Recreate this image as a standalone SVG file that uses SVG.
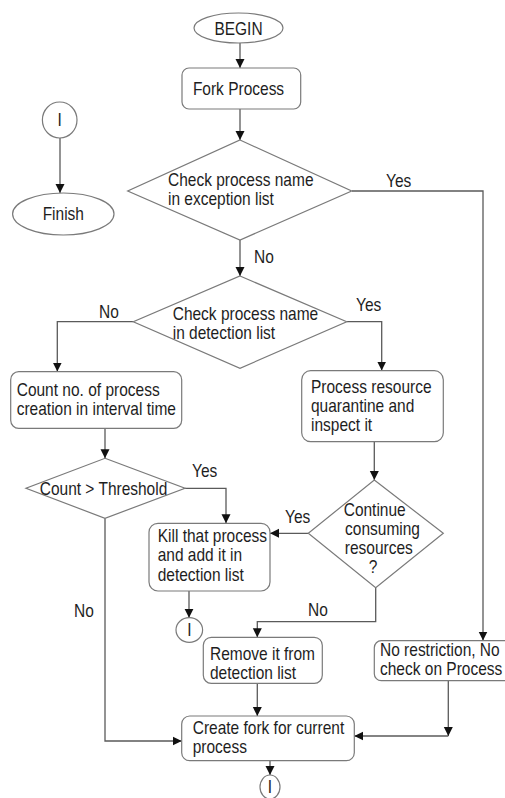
<svg xmlns="http://www.w3.org/2000/svg" width="505" height="798" viewBox="0 0 505 798">
<style>
.shape{fill:#fff;stroke:#7a7a7a;stroke-width:1.2}
.conn{fill:none;stroke:#5a5a5a;stroke-width:1.3}
text{font-family:"Liberation Sans",Arial,sans-serif;font-size:17.5px;fill:#1e1e1e}
.c{text-anchor:middle}
</style>
<defs>
<marker id="arr" viewBox="0 0 10 10" refX="10" refY="5" markerWidth="9" markerHeight="10" markerUnits="userSpaceOnUse" orient="auto">
<path d="M0,0 L10,5 L0,10 z" fill="#111"/>
</marker>
</defs>
<rect width="505" height="798" fill="#fff"/>
<g id="connectors" class="conn">
<path d="M240,43 V68" marker-end="url(#arr)"/>
<path d="M240,109 V140" marker-end="url(#arr)"/>
<path d="M240,240 V276" marker-end="url(#arr)"/>
<path d="M352,191 H483 V640.5" marker-end="url(#arr)"/>
<path d="M133.3,321.7 H57.3 V371.5" marker-end="url(#arr)"/>
<path d="M346.7,321.7 H381.7 V370.5" marker-end="url(#arr)"/>
<path d="M105,428.3 V458.3" marker-end="url(#arr)"/>
<path d="M374.3,441.7 V480" marker-end="url(#arr)"/>
<path d="M185,488.3 H226 V523.3" marker-end="url(#arr)"/>
<path d="M308.3,533.3 H270" marker-end="url(#arr)"/>
<path d="M189,591 V617.7" marker-end="url(#arr)"/>
<path d="M105,518.3 V741 H181.7" marker-end="url(#arr)"/>
<path d="M375.7,587.7 V621.7 H257.3 V637.3" marker-end="url(#arr)"/>
<path d="M257.3,683.3 V716" marker-end="url(#arr)"/>
<path d="M448.3,680.7 V736" marker-end="url(#arr)"/>
<path d="M448.3,736 H354.3" marker-end="url(#arr)"/>
<path d="M270,760.7 V775" marker-end="url(#arr)"/>
<path d="M60,138 V193" marker-end="url(#arr)"/>
</g>
<g id="labels">
<text transform="translate(386,186.5) scale(0.886,1)">Yes</text>
<text transform="translate(254,263) scale(0.886,1)">No</text>
<text transform="translate(99,317.5) scale(0.886,1)">No</text>
<text transform="translate(356,311) scale(0.886,1)">Yes</text>
<text transform="translate(192,477) scale(0.886,1)">Yes</text>
<text transform="translate(285,522.5) scale(0.886,1)">Yes</text>
<text transform="translate(74,617) scale(0.886,1)">No</text>
<text transform="translate(308,616) scale(0.886,1)">No</text>
</g>
<g id="begin">
<ellipse class="shape" cx="238.5" cy="28" rx="44.5" ry="15"/>
<text class="c" transform="translate(238.5,34.5) scale(0.886,1)">BEGIN</text>
</g>
<g id="fork-process">
<rect class="shape" x="182" y="68" width="118.7" height="41" rx="7"/>
<text class="c" transform="translate(238.5,94.5) scale(0.886,1)">Fork Process</text>
</g>
<g id="check-exception">
<polygon class="shape" points="240,140 351.7,191 240,240 127.7,191"/>
<text transform="translate(168,186) scale(0.886,1)">Check process name</text>
<text transform="translate(168,205) scale(0.886,1)">in exception list</text>
</g>
<g id="connector-i-top">
<ellipse class="shape" cx="59.7" cy="120" rx="17.3" ry="18"/>
<text class="c" transform="translate(59.7,126) scale(0.886,1)">I</text>
</g>
<g id="finish">
<ellipse class="shape" cx="63.3" cy="214" rx="50.7" ry="21"/>
<text class="c" transform="translate(63.3,220) scale(0.886,1)">Finish</text>
</g>
<g id="check-detection">
<polygon class="shape" points="240,276 346.7,321.7 240,368.3 133.3,321.7"/>
<text transform="translate(172.7,319.5) scale(0.886,1)">Check process name</text>
<text transform="translate(172.7,338.5) scale(0.886,1)">in detection list</text>
</g>
<g id="count-creation">
<rect class="shape" x="10.7" y="371.7" width="171" height="56.6" rx="8"/>
<text transform="translate(16.7,396) scale(0.886,1)">Count no. of process</text>
<text transform="translate(16.7,415) scale(0.886,1)">creation in interval time</text>
</g>
<g id="quarantine">
<rect class="shape" x="301.7" y="370.7" width="141.6" height="71" rx="9"/>
<text transform="translate(311,392.5) scale(0.886,1)">Process resource</text>
<text transform="translate(311,411.5) scale(0.886,1)">quarantine and</text>
<text transform="translate(311,430.5) scale(0.886,1)">inspect it</text>
</g>
<g id="threshold">
<polygon class="shape" points="105,458.3 185,488.3 105,518.3 26,488.3"/>
<text class="c" transform="translate(103.5,494.5) scale(0.886,1)">Count &gt; Threshold</text>
</g>
<g id="continue-consuming">
<polygon class="shape" points="374.3,480 443.3,533.3 375.7,587.7 308.3,533.3"/>
<text class="c" transform="translate(374.7,516) scale(0.886,1)">Continue</text>
<text class="c" transform="translate(382.5,535) scale(0.886,1)">consuming</text>
<text class="c" transform="translate(378.8,554) scale(0.886,1)">resources</text>
<text class="c" transform="translate(373,573.3) scale(0.886,1)">?</text>
</g>
<g id="kill-process">
<rect class="shape" x="149" y="523.3" width="121" height="67.7" rx="9"/>
<text transform="translate(157.7,541.5) scale(0.886,1)">Kill that process</text>
<text transform="translate(157.7,561) scale(0.886,1)">and add it in</text>
<text transform="translate(157.7,580.5) scale(0.886,1)">detection list</text>
</g>
<g id="connector-i-kill">
<ellipse class="shape" cx="189.3" cy="630" rx="13.3" ry="12.3"/>
<text class="c" transform="translate(189.3,636) scale(0.886,1)">I</text>
</g>
<g id="remove-detection">
<rect class="shape" x="203.3" y="637.3" width="119" height="46" rx="8"/>
<text transform="translate(210,659.5) scale(0.886,1)">Remove it from</text>
<text transform="translate(210,678.5) scale(0.886,1)">detection list</text>
</g>
<g id="no-restriction">
<rect class="shape" x="374.3" y="640.7" width="140" height="40" rx="7"/>
<text transform="translate(380,656) scale(0.886,1)">No restriction, No</text>
<text transform="translate(380,675) scale(0.886,1)">check on Process</text>
</g>
<g id="create-fork">
<rect class="shape" x="181.7" y="716" width="172.6" height="44.7" rx="8"/>
<text transform="translate(192.7,734) scale(0.886,1)">Create fork for current</text>
<text transform="translate(192.7,753) scale(0.886,1)">process</text>
</g>
<g id="connector-i-bottom">
<ellipse class="shape" cx="270" cy="787" rx="10" ry="12"/>
<text class="c" transform="translate(270,793) scale(0.886,1)">I</text>
</g>
</svg>
